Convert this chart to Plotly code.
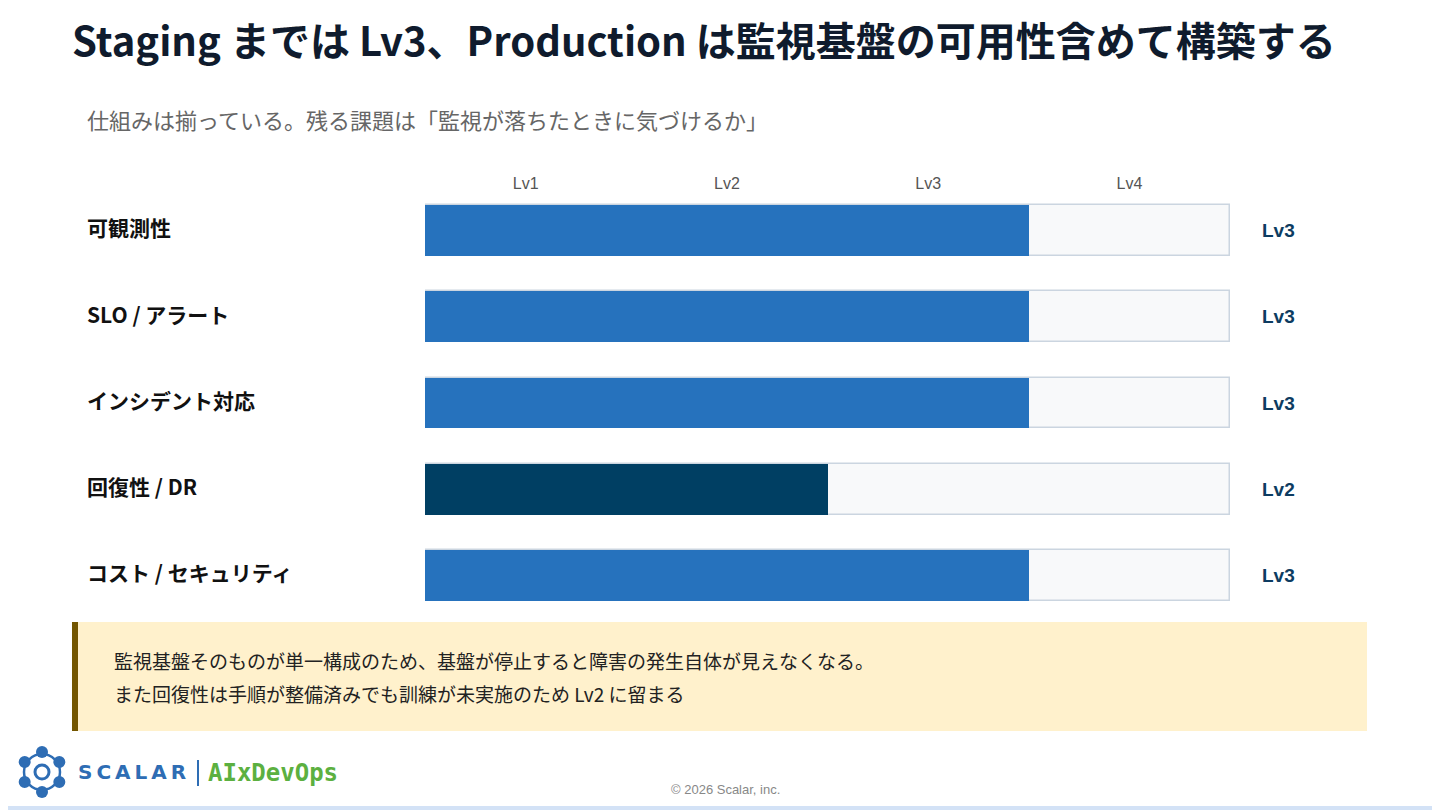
import math
import plotly.graph_objects as go

# data
categories = ['可観測性', 'SLO / アラート', 'インシデント対応', '回復性 / DR', 'コスト / セキュリティ']
levels = [3, 3, 3, 2, 3]
level_labels = ['Lv1', 'Lv2', 'Lv3', 'Lv4']
max_level = 4
bar_colors = ['#2672bd' if v >= 3 else '#003f63' for v in levels]

title = 'Staging までは Lv3、Production は監視基盤の可用性含めて構築する'
subtitle = '仕組みは揃っている。残る課題は「監視が落ちたときに気づけるか」'
note_lines = ['監視基盤そのものが単一構成のため、基盤が停止すると障害の発生自体が見えなくなる。',
              'また回復性は手順が整備済みでも訓練が未実施のため Lv2 に留まる']

W, H = 1440, 810
OFF = 8  # page body margin pushes the plot 8px right/down
JP = 'Noto Sans CJK JP'
BLUE = '#2e6db4'


def px(x):
    return (x - OFF) / W


def py(y):
    return 1 - (y - OFF) / H


ypos = list(range(len(categories)))

fig = go.Figure()
# empty track for each row
fig.add_trace(go.Bar(
    y=ypos, x=[max_level] * len(categories), base=0, orientation='h', width=0.59,
    marker=dict(color='#f8f9fa', line=dict(color='#cbd5e0', width=1.5)),
    hoverinfo='skip', showlegend=False,
))
fig.add_trace(go.Bar(
    y=ypos, x=levels, base=0, orientation='h', width=0.59,
    marker=dict(color=bar_colors, line=dict(width=0)),
    showlegend=False,
))

annotations = []
for i, c in enumerate(categories):
    annotations.append(dict(x=px(85), y=i - 0.035, xref='paper', yref='y', text=f'<b>{c}</b>',
                            showarrow=False, xanchor='left', yanchor='middle',
                            font=dict(family=JP, size=21, color='#111111')))
    annotations.append(dict(x=px(1278), y=i, xref='paper', yref='y', text=f'<b>Lv{levels[i]}</b>',
                            showarrow=False, xanchor='center', yanchor='middle',
                            font=dict(family='Liberation Sans, Arial', size=19, color='#0d3c61')))

annotations += [
    dict(x=px(70), y=py(39), xref='paper', yref='paper', text=f'<b>{title}</b>', showarrow=False,
         xanchor='left', yanchor='middle', font=dict(family=JP, size=40, color='#0f1b2d')),
    dict(x=px(85), y=py(119), xref='paper', yref='paper', text=subtitle, showarrow=False,
         xanchor='left', yanchor='middle', font=dict(family=JP, size=22, color='#666666')),
    dict(x=px(112), y=py(660), xref='paper', yref='paper', text=note_lines[0], showarrow=False,
         xanchor='left', yanchor='middle', font=dict(family=JP, size=19, color='#222222')),
    dict(x=px(112), y=py(693), xref='paper', yref='paper', text=note_lines[1], showarrow=False,
         xanchor='left', yanchor='middle', font=dict(family=JP, size=19, color='#222222')),
    dict(x=px(76), y=py(772), xref='paper', yref='paper',
         text='<b>S\u2009C\u2009A\u2009L\u2009A\u2009R</b>', showarrow=False,
         xanchor='left', yanchor='middle', font=dict(family='DejaVu Sans', size=20, color=BLUE)),
    dict(x=px(206), y=py(773), xref='paper', yref='paper', text='<b>AIxDevOps</b>', showarrow=False,
         xanchor='left', yanchor='middle', font=dict(family='DejaVu Sans Mono', size=24, color='#5cb040')),
    dict(x=px(725), y=py(789), xref='paper', yref='paper', text='© 2026 Scalar, inc.', showarrow=False,
         xanchor='center', yanchor='middle', font=dict(family='Liberation Sans, Arial', size=13, color='#888888')),
]

shapes = [
    # slide border (right and bottom edges visible on the page)
    dict(type='rect', xref='paper', yref='paper', x0=px(1.5), x1=px(1437), y0=py(808), y1=py(2),
         line=dict(color='#d3e2f6', width=4), fillcolor='rgba(0,0,0,0)', layer='below'),
    # callout box
    dict(type='rect', xref='paper', yref='paper', x0=px(72), x1=px(1367), y0=py(731), y1=py(622),
         line=dict(width=0), fillcolor='#fff1cc', layer='below'),
    dict(type='rect', xref='paper', yref='paper', x0=px(72), x1=px(78), y0=py(731), y1=py(622),
         line=dict(width=0), fillcolor='#735600', layer='below'),
    # logo divider
    dict(type='line', xref='paper', yref='paper', x0=px(198), x1=px(198), y0=py(760), y1=py(786),
         line=dict(color=BLUE, width=2)),
]

# logo icon: ring of small dots around a center
cx, cy = 42, 772
for k in range(6):
    a = math.pi / 2 + k * math.pi / 3
    x = cx + 20 * math.cos(a)
    y = cy - 20 * math.sin(a)
    shapes.append(dict(type='circle', xref='paper', yref='paper', x0=px(x - 6), x1=px(x + 6),
                       y0=py(y + 6), y1=py(y - 6), fillcolor=BLUE, line=dict(width=0)))
shapes.append(dict(type='circle', xref='paper', yref='paper', x0=px(cx - 18), x1=px(cx + 18),
                   y0=py(cy + 18), y1=py(cy - 18), fillcolor='rgba(0,0,0,0)',
                   line=dict(color=BLUE, width=2.5)))
shapes.append(dict(type='circle', xref='paper', yref='paper', x0=px(cx - 7), x1=px(cx + 7),
                   y0=py(cy + 7), y1=py(cy - 7), fillcolor='rgba(0,0,0,0)',
                   line=dict(color=BLUE, width=3)))

# plot area: x 0..4 -> 425..1230 px, rows spaced 86.25 px from 230.5
top_px, bot_px = 193, 618.6
row0, step = 230.5, 86.25
fig.update_layout(
    width=W, height=H, margin=dict(l=0, r=0, t=0, b=0),
    paper_bgcolor='white', plot_bgcolor='white',
    barmode='overlay', bargap=0,
    xaxis=dict(domain=[px(425), px(1230)], range=[0, max_level], side='top',
               tickvals=[i + 0.5 for i in range(max_level)], ticktext=level_labels,
               showgrid=False, zeroline=False, showline=False, ticks='',
               tickfont=dict(family='Liberation Sans, Arial', size=16, color='#555555'),
               fixedrange=True),
    yaxis=dict(domain=[py(bot_px), py(top_px)],
               range=[(bot_px - row0) / step, -(row0 - top_px) / step],
               showticklabels=False, showgrid=False, zeroline=False, showline=False,
               fixedrange=True),
    annotations=annotations,
    shapes=shapes,
)

fig.write_html('out.html')
